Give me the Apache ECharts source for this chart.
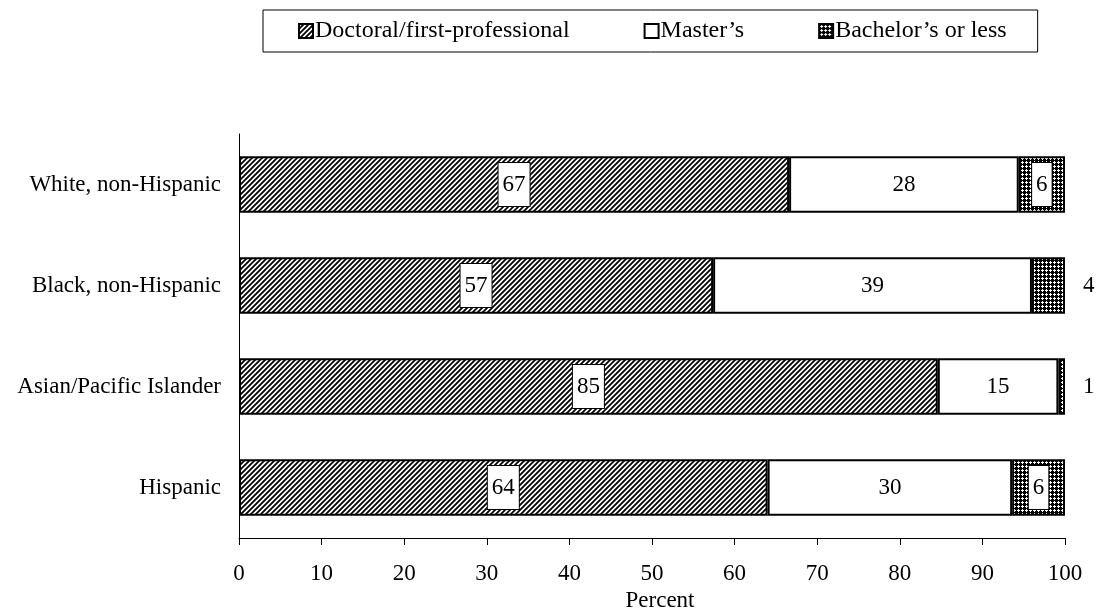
<!DOCTYPE html>
<html>
<head>
<meta charset="utf-8">
<script src="https://cdn.jsdelivr.net/npm/echarts@6/dist/echarts.min.js"></script>
<style>
  html, body { margin: 0; padding: 0; background: #fff; }
  #chart { width: 1099px; height: 608px; }
</style>
</head>
<body>
<div id="chart"></div>
<script>
// Highest degree earned, by race/ethnicity (percent)
const categories = ['White, non-Hispanic', 'Black, non-Hispanic', 'Asian/Pacific Islander', 'Hispanic'];
const seriesNames = ['Doctoral/first-professional', 'Master\u2019s', 'Bachelor\u2019s or less'];
const doctoral = [66.6, 57.4, 84.6, 64.0];
const masters = [27.8, 38.6, 14.6, 29.6];
const bachelors = [5.6, 4.0, 0.8, 6.4];
const xTicks = [0, 10, 20, 30, 40, 50, 60, 70, 80, 90, 100];

const FONT = 'Liberation Serif, Times New Roman, serif';

// Diagonal hatch fill
function hatchPattern() {
  const s = 5;
  const c = document.createElement('canvas');
  c.width = s; c.height = s;
  const g = c.getContext('2d');
  g.fillStyle = '#fff';
  g.fillRect(0, 0, s, s);
  g.strokeStyle = '#000';
  g.lineWidth = 1.8;
  g.beginPath();
  g.moveTo(-1, s + 1); g.lineTo(s + 1, -1);
  g.moveTo(-1, 1); g.lineTo(1, -1);
  g.moveTo(s - 1, s + 1); g.lineTo(s + 1, s - 1);
  g.stroke();
  return c;
}

// Dense dotted grid fill
function dotPattern() {
  const s = 4;
  const c = document.createElement('canvas');
  c.width = s; c.height = s;
  const g = c.getContext('2d');
  g.fillStyle = '#000';
  g.fillRect(0, 0, s, s);
  g.fillStyle = '#fff';
  g.fillRect(1, 2, 3, 1);
  g.fillRect(2, 1, 1, 3);
  return c;
}

const round = p => String(Math.round(p.value));
const boxed = {
  backgroundColor: '#fff', borderColor: '#000', borderWidth: 1, padding: [10, 4]
};
const baseLabel = {
  show: true, position: 'inside', color: '#000', fontFamily: FONT, fontSize: 23, formatter: round
};
const barStyle = fill => ({ color: fill, borderColor: '#000', borderWidth: 2 });

const chart = echarts.init(document.getElementById('chart'), null, { renderer: 'canvas' });

chart.setOption({
  animation: false,
  backgroundColor: '#fff',
  textStyle: { fontFamily: FONT, color: '#000' },
  legend: {
    data: seriesNames,
    left: 263,
    top: 10,
    padding: [9, 31, 9, 35],
    itemGap: 74,
    itemWidth: 14,
    itemHeight: 14,
    borderColor: '#000',
    borderWidth: 1,
    icon: 'rect',
    textStyle: { fontFamily: FONT, fontSize: 24, color: '#000', padding: [0, 0, 0, -3] }
  },
  grid: { left: 239, right: 34, top: 134, bottom: 70, containLabel: false, outerBoundsMode: 'none' },
  xAxis: {
    type: 'value',
    min: xTicks[0],
    max: xTicks[xTicks.length - 1],
    interval: xTicks[1] - xTicks[0],
    name: 'Percent',
    nameLocation: 'middle',
    nameGap: 49,
    nameTextStyle: { fontFamily: FONT, fontSize: 23, color: '#000', padding: [0, 0, 0, 16] },
    axisLine: { show: true, lineStyle: { color: '#000', width: 1 } },
    axisTick: { show: true, inside: false, length: 7, lineStyle: { color: '#000' } },
    axisLabel: { fontFamily: FONT, fontSize: 23, color: '#000', margin: 24 },
    splitLine: { show: false }
  },
  yAxis: {
    type: 'category',
    data: categories,
    inverse: true,
    axisLine: { show: true, lineStyle: { color: '#000', width: 1 } },
    axisTick: { show: false },
    axisLabel: { fontFamily: FONT, fontSize: 23, color: '#000', margin: 18 }
  },
  series: [
    {
      name: seriesNames[0],
      type: 'bar',
      stack: 'total',
      barWidth: '56%',
      data: doctoral,
      itemStyle: barStyle({ image: hatchPattern(), repeat: 'repeat' }),
      label: Object.assign({}, baseLabel, boxed)
    },
    {
      name: seriesNames[1],
      type: 'bar',
      stack: 'total',
      data: masters,
      itemStyle: barStyle('#fff'),
      label: baseLabel
    },
    {
      name: seriesNames[2],
      type: 'bar',
      stack: 'total',
      // thin segments get their label beside the bar instead of inside it
      data: bachelors.map(v => v < 5 ? {
        value: v,
        label: { position: 'right', distance: 18, backgroundColor: 'transparent', borderWidth: 0, padding: 0 }
      } : v),
      itemStyle: barStyle({ image: dotPattern(), repeat: 'repeat' }),
      label: Object.assign({}, baseLabel, boxed)
    }
  ]
});
</script>
</body>
</html>
